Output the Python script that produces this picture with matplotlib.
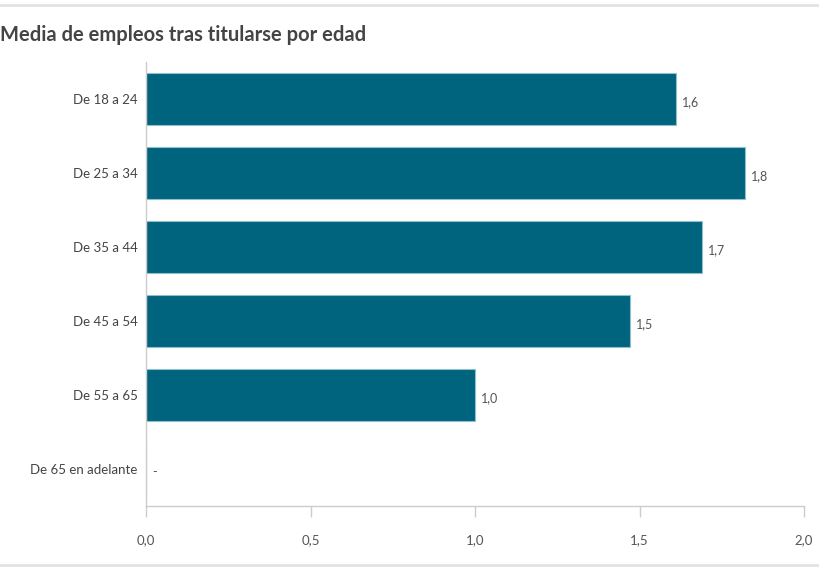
import numpy as np
import matplotlib.pyplot as plt
from matplotlib.ticker import FuncFormatter

grupos = ["De 18 a 24", "De 25 a 34", "De 35 a 44", "De 45 a 54", "De 55 a 65", "De 65 en adelante"]
media_empleos = [1.61, 1.82, 1.69, 1.47, 1.00, 0.0]
etiquetas = ["1,6", "1,8", "1,7", "1,5", "1,0", "-"]
ticks_x = [0.0, 0.5, 1.0, 1.5, 2.0]

plt.rcParams['font.family'] = ['Lato', 'DejaVu Sans']

fig = plt.figure(figsize=(8.19, 5.69), dpi=100)
W, H = 819, 569
ax = fig.add_axes([146 / W, 1 - 506 / H, (804 - 146) / W, (506 - 62) / H])

y = np.arange(len(grupos))
ax.barh(y, media_empleos, height=0.7, color='#00647f', edgecolor='#8fbfcc', linewidth=0.8)

for yi, v, lab in zip(y, media_empleos, etiquetas):
    ax.text(v + 0.018, yi + 0.04, lab, va='center', ha='left', fontsize=9, color='#555555')

ax.set_xlim(0, 2.0)
ax.set_ylim(len(grupos) - 0.5, -0.5)
ax.set_yticks(y)
ax.set_yticklabels(grupos, fontsize=9.5, color='#444444')
ax.set_xticks(ticks_x)
ax.xaxis.set_major_formatter(FuncFormatter(lambda v, p: f"{v:.1f}".replace('.', ',')))
ax.tick_params(axis='x', length=8, width=1, color='#cccccc', labelsize=9.5, labelcolor='#555555', pad=12)
ax.tick_params(axis='y', length=0, pad=6)

for s in ['top', 'right']:
    ax.spines[s].set_visible(False)
for s in ['left', 'bottom']:
    ax.spines[s].set_color('#cccccc')
    ax.spines[s].set_linewidth(1)

fig.text(0.0, 1 - 35 / H, "Media de empleos tras titularse por edad", fontsize=14.5,
         fontweight='bold', color='#444444', va='center', ha='left')

# marco superior e inferior
fig.add_artist(plt.Line2D([0, 1], [1 - 5 / H, 1 - 5 / H], color='#e2e2e2', linewidth=2))
fig.add_artist(plt.Line2D([0, 1], [1 - 565 / H, 1 - 565 / H], color='#e2e2e2', linewidth=2))

fig.savefig('out.png', dpi=100)
